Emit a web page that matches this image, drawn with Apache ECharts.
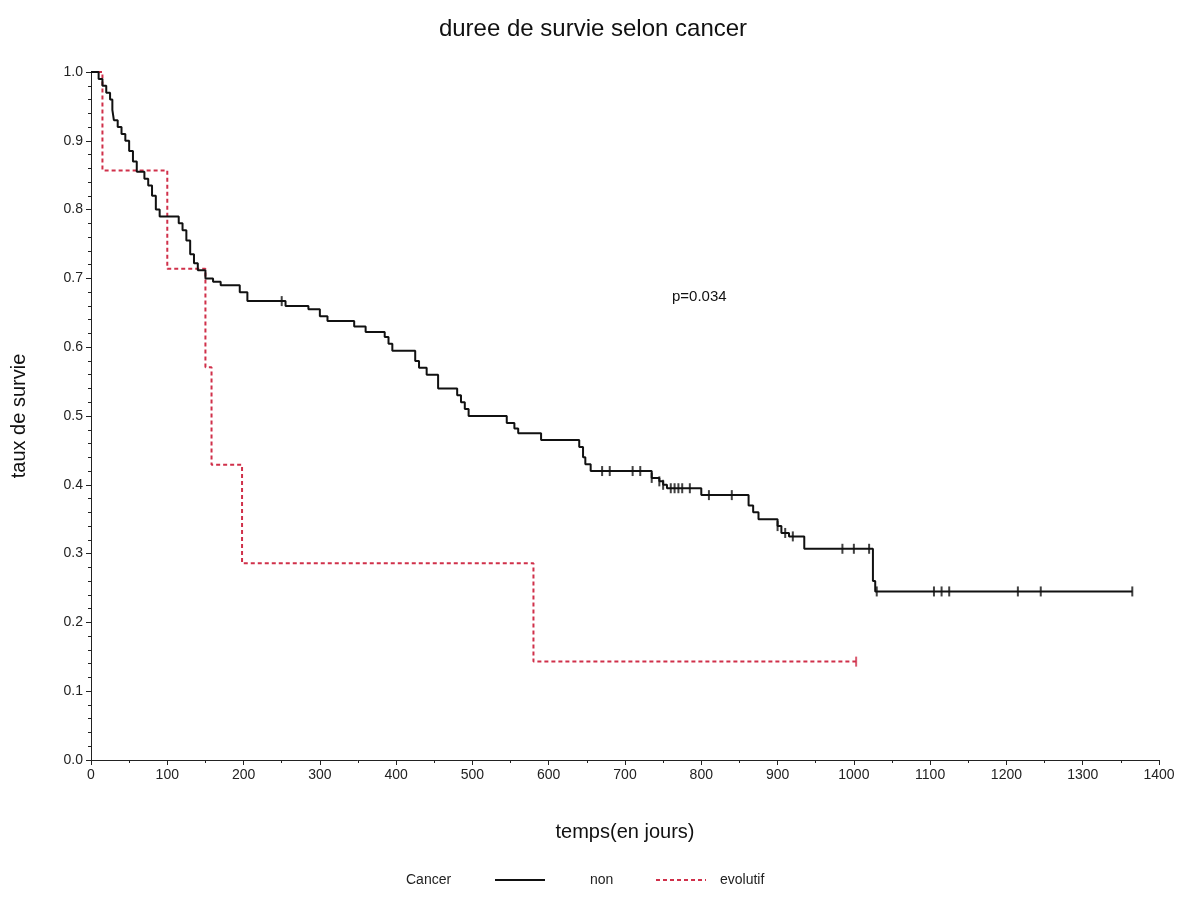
<!DOCTYPE html>
<html><head><meta charset="utf-8">
<script src="https://cdn.jsdelivr.net/npm/echarts@6/dist/echarts.min.js"></script>
<style>html,body{margin:0;padding:0;background:#fff}#c{width:1186px;height:897px}</style>
</head><body><div id="c"></div>
<script>
const nonTimes = [0,10,15,20,25,28,30,35,40,45,50,55,60,70,75,80,85,90,115,120,125,130,135,140,150,160,170,195,205,255,285,300,310,345,360,385,390,395,425,430,440,455,480,485,490,495,545,555,560,590,640,645,648,655,735,745,750,755,800,862,868,875,900,905,915,935,1025,1028];
const nonSurv  = [1.0,0.99,0.98,0.97,0.96,0.945,0.93,0.92,0.91,0.90,0.885,0.87,0.855,0.845,0.835,0.82,0.80,0.79,0.78,0.77,0.755,0.735,0.722,0.712,0.70,0.695,0.69,0.68,0.667,0.66,0.655,0.645,0.638,0.63,0.622,0.615,0.605,0.595,0.58,0.57,0.56,0.54,0.53,0.52,0.51,0.50,0.49,0.482,0.475,0.465,0.455,0.44,0.43,0.42,0.41,0.405,0.40,0.395,0.385,0.37,0.36,0.35,0.34,0.33,0.325,0.307,0.26,0.245];
const nonEnd = 1365;
const nonCensor = [250,670,680,710,720,735,745,750,760,765,770,775,785,810,840,900,910,920,985,1000,1020,1030,1105,1115,1125,1215,1245,1365];
const evoTimes = [0,15,100,150,158,198,580];
const evoSurv  = [1.0,0.857,0.714,0.571,0.429,0.286,0.143];
const evoEnd = 1003;
const evoCensor = [1003];

function stepPts(t,s,end){const p=[];for(let i=0;i<t.length;i++){if(i>0)p.push([t[i],s[i-1]]);p.push([t[i],s[i]]);}p.push([end,s[s.length-1]]);return p;}
function survAt(t,s,x){let v=s[0];for(let i=0;i<t.length;i++){if(t[i]<=x)v=s[i];}return v;}
const cens=(c,t,s)=>c.map(x=>[x,survAt(t,s,x)]);

const ch=echarts.init(document.getElementById('c'));
const ff='Liberation Sans, Arial, sans-serif';
ch.setOption({
 animation:false,
 title:{text:'duree de survie selon cancer',left:'center',top:12,textStyle:{fontFamily:ff,fontSize:24,fontWeight:'normal',color:'#111'}},
 grid:{left:91,right:27,top:72,bottom:137},
 xAxis:{type:'value',min:0,max:1400,interval:100,name:'temps(en jours)',nameLocation:'middle',nameGap:62,
  nameTextStyle:{fontFamily:ff,fontSize:20,color:'#111'},
  axisLine:{lineStyle:{color:'#222'}},axisTick:{lineStyle:{color:'#222'}},minorTick:{show:true,splitNumber:2,length:3},
  axisLabel:{fontFamily:ff,fontSize:14,color:'#222',formatter:v=>String(v)},splitLine:{show:false}},
 yAxis:{type:'value',min:0,max:1,interval:0.1,name:'taux de survie',nameLocation:'middle',nameGap:62,
  nameTextStyle:{fontFamily:ff,fontSize:20,color:'#111'},
  axisLine:{show:true,lineStyle:{color:'#222'}},axisTick:{show:true,lineStyle:{color:'#222'}},minorTick:{show:true,splitNumber:5,length:3},
  axisLabel:{fontFamily:ff,fontSize:14,color:'#222',formatter:v=>v.toFixed(1)},splitLine:{show:false}},
 series:[
  {type:'line',data:stepPts(nonTimes,nonSurv,nonEnd),symbol:'none',lineStyle:{color:'#111',width:2},z:3},
  {type:'line',data:stepPts(evoTimes,evoSurv,evoEnd),symbol:'none',lineStyle:{color:'#d0304a',width:2,type:[4,3]},z:2},
  {type:'scatter',data:cens(nonCensor,nonTimes,nonSurv),symbol:'rect',symbolSize:[2,10],itemStyle:{color:'#111'},z:4},
  {type:'scatter',data:cens(evoCensor,evoTimes,evoSurv),symbol:'rect',symbolSize:[2,10],itemStyle:{color:'#d0304a'},z:4}
 ],
 graphic:[
  {type:'text',left:672,top:289,style:{text:'p=0.034',font:'15px '+ff,fill:'#111'}},
  {type:'text',left:406,top:873,style:{text:'Cancer',font:'14px '+ff,fill:'#222'}},
  {type:'line',shape:{x1:495,y1:880,x2:545,y2:880},style:{stroke:'#111',lineWidth:2}},
  {type:'text',left:590,top:873,style:{text:'non',font:'14px '+ff,fill:'#222'}},
  {type:'line',shape:{x1:656,y1:880,x2:706,y2:880},style:{stroke:'#d0304a',lineWidth:2,lineDash:[4,3]}},
  {type:'text',left:720,top:873,style:{text:'evolutif',font:'14px '+ff,fill:'#222'}}
 ]
});
</script></body></html>
